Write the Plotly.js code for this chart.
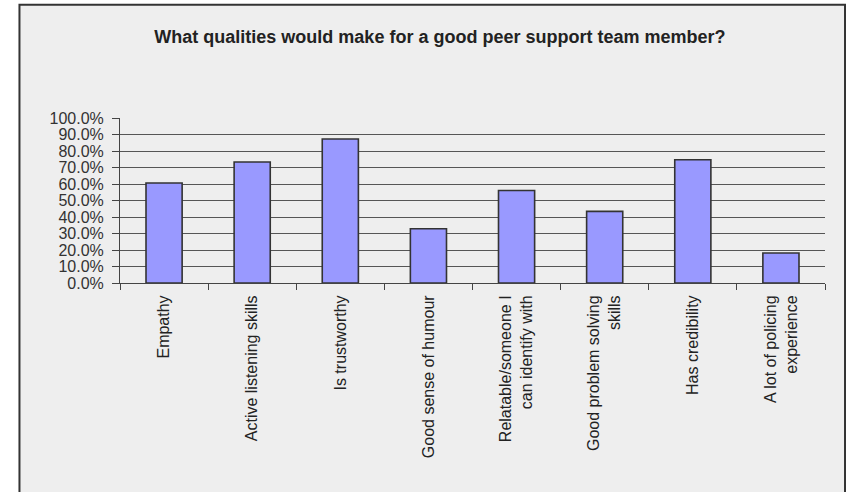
<!DOCTYPE html>
<html>
<head>
<meta charset="utf-8">
<script src="https://cdn.plot.ly/plotly-3.0.1.min.js"></script>
<style>html,body{margin:0;padding:0;background:#fff;}#chart{width:846px;height:492px;}</style>
</head>
<body>
<div id="chart"></div>
<script>
var categories = [
  "Empathy",
  "Active listening skills",
  "Is trustworthy",
  "Good sense of humour",
  "Relatable/someone I<br>can identify with",
  "Good problem solving<br>skills",
  "Has credibility",
  "A lot of policing<br>experience"
];
var values = [0.606, 0.733, 0.873, 0.329, 0.561, 0.434, 0.747, 0.182];
var tickValues = [0, 0.1, 0.2, 0.3, 0.4, 0.5, 0.6, 0.7, 0.8, 0.9, 1.0];
var tickLabels = ["0.0%", "10.0%", "20.0%", "30.0%", "40.0%", "50.0%", "60.0%", "70.0%", "80.0%", "90.0%", "100.0%"];
var chartTitle = "What qualities would make for a good peer support team member?";

var trace = {
  type: "bar",
  x: categories,
  y: values,
  marker: {color: "#9999ff", line: {color: "#333333", width: 1.6}},
  hoverinfo: "none"
};

var layout = {
  width: 846,
  height: 492,
  margin: {l: 120, r: 21, t: 118, b: 209, pad: 0},
  paper_bgcolor: "#ffffff",
  plot_bgcolor: "#eeeeee",
  showlegend: false,
  bargap: 0.59,
  title: {
    text: "<b>" + chartTitle + "</b>",
    font: {family: "Liberation Sans Narrow, Arial Narrow, Liberation Sans, Arial, sans-serif", size: 18, color: "#222222"},
    x: 0.52, xanchor: "center",
    y: 0.925, yanchor: "middle"
  },
  xaxis: {
    type: "category",
    tickangle: -90,
    ticks: "outside",
    tickson: "boundaries",
    ticklen: 6,
    tickcolor: "#444444",
    showline: true,
    linecolor: "#444444",
    linewidth: 1,
    showgrid: false,
    tickfont: {family: "Liberation Sans, Arial, sans-serif", size: 16, color: "#222222"},
    ticklabelstandoff: 5,
    fixedrange: true
  },
  yaxis: {
    range: [0, 1],
    tickvals: tickValues,
    ticktext: tickLabels,
    ticks: "outside",
    ticklen: 7,
    tickcolor: "#444444",
    showline: true,
    linecolor: "#444444",
    linewidth: 1,
    showgrid: true,
    gridcolor: "#555555",
    gridwidth: 1,
    zeroline: false,
    tickfont: {family: "Liberation Sans, Arial, sans-serif", size: 16, color: "#333333"},
    ticklabelstandoff: 5,
    fixedrange: true
  },
  shapes: [{
    type: "rect", xref: "paper", yref: "paper", layer: "below",
    x0: -0.1426, x1: 1.0284, y0: -1.4, y1: 1.687,
    fillcolor: "#eeeeee",
    line: {color: "#333333", width: 2}
  }]
};

Plotly.newPlot("chart", [trace], layout, {displayModeBar: false, staticPlot: true});
</script>
</body>
</html>
